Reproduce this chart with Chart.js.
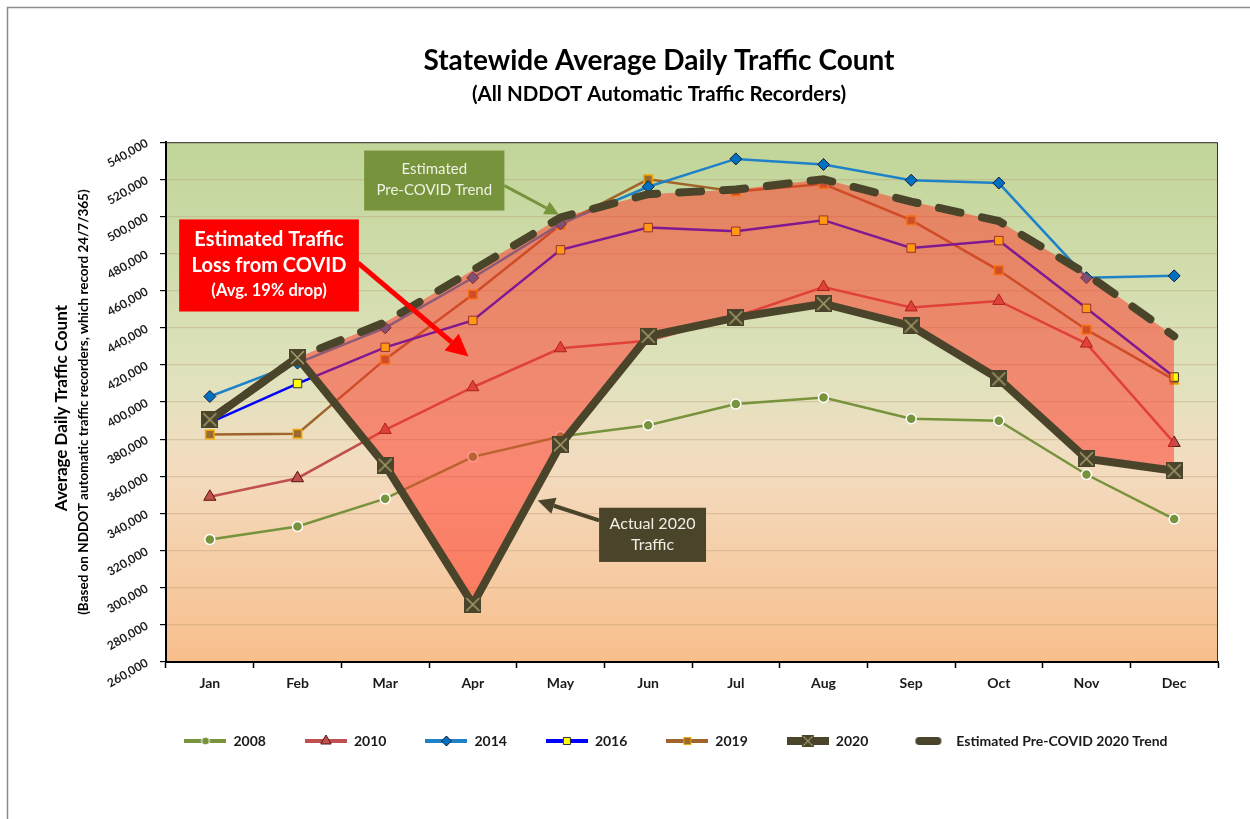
<!DOCTYPE html>
<html>
<head>
<meta charset="utf-8">
<script src="https://cdn.jsdelivr.net/npm/chart.js@4.4.1/dist/chart.umd.min.js"></script>
<style>
  html, body { margin: 0; padding: 0; background: #fff; }
</style>
</head>
<body>
<canvas id="trafficChart" width="1250" height="819"></canvas>
<script>
// ----------------- DATA -----------------
const months = ["Jan", "Feb", "Mar", "Apr", "May", "Jun", "Jul", "Aug", "Sep", "Oct", "Nov", "Dec"];

const adt2008 = [326000, 333000, 348000, 370500, 381500, 387500, 399000, 402500, 391000, 390000, 361000, 337000];
const adt2010 = [349000, 359000, 385000, 408000, 429000, 433000, 446000, 462000, 451000, 454500, 431500, 378000];
const adt2014 = [403000, 421000, 440000, 467000, 496000, 516000, 531000, 528000, 519500, 518000, 467000, 468000];
const adt2016 = [389000, 410000, 429500, 444000, 482000, 494000, 492000, 498000, 483000, 487000, 450500, 413500];
const adt2019 = [382500, 383000, 423000, 458000, 495500, 520000, 513500, 517500, 498000, 471000, 439000, 412000];
const adt2020 = [390500, 424000, 366000, 291000, 377000, 435500, 445500, 453000, 441000, 412500, 369500, 363000];
const preCovidTrend = [390500, 424000, 443000, 471000, 499500, 512000, 514500, 520000, 508000, 497500, 469000, 435500];

const yMin = 260000;
const yMax = 540000;
const yStep = 20000;

const FONT = "Lato, 'Open Sans', sans-serif";
Chart.defaults.font.family = FONT;

// ----------------- MARKERS -----------------
function makeXMarker(size) {
    const c = document.createElement("canvas");
    c.width = size;
    c.height = size;
    const g = c.getContext("2d");
    g.fillStyle = "#4a452a";
    g.fillRect(0, 0, size, size);
    g.strokeStyle = "#a59d6c";
    g.lineWidth = 1.5;
    g.beginPath();
    g.moveTo(2, 2); g.lineTo(size - 2, size - 2);
    g.moveTo(size - 2, 2); g.lineTo(2, size - 2);
    g.stroke();
    return c;
}

// little line + marker picture used as a legend swatch
function legendSample(lineColor, lineWidth, marker) {
    const c = document.createElement("canvas");
    c.width = 42;
    c.height = 16;
    const g = c.getContext("2d");
    g.strokeStyle = lineColor;
    g.lineWidth = lineWidth;
    g.beginPath();
    g.moveTo(0, 8);
    g.lineTo(42, 8);
    g.stroke();
    if (marker instanceof HTMLCanvasElement) {
        g.drawImage(marker, 21 - 6, 8 - 6, 12, 12);
    } else if (marker) {
        g.fillStyle = marker.fill;
        g.strokeStyle = marker.border;
        g.lineWidth = 1;
        Chart.helpers.drawPoint(g, { pointStyle: marker.style, radius: marker.radius, rotation: 0, borderWidth: 1 }, 21, 8);
    }
    return c;
}

function trendSample() {
    const c = document.createElement("canvas");
    c.width = 42;
    c.height = 16;
    const g = c.getContext("2d");
    g.strokeStyle = "#4a452a";
    g.lineWidth = 8;
    g.lineCap = "round";
    g.beginPath();
    g.moveTo(12, 8);
    g.lineTo(30, 8);
    g.stroke();
    return c;
}

const xMarker = makeXMarker(17);

const legendSamples = [
    legendSample("#77933c", 4, { style: "circle", radius: 4, fill: "#77933c", border: "#ffffff" }),
    legendSample("#c0504d", 4, { style: "triangle", radius: 6, fill: "#c0504d", border: "#5a1010" }),
    legendSample("#1f82c8", 4, { style: "rectRot", radius: 5, fill: "#0070c0", border: "#1a1a3a" }),
    legendSample("#0000ff", 4, { style: "rect", radius: 5, fill: "#ffff00", border: "#333333" }),
    legendSample("#a0652d", 4, { style: "rect", radius: 5, fill: "#9a6a30", border: "#f0a800" }),
    legendSample("#4a452a", 8, xMarker),
    trendSample()
];

// ----------------- CALLOUTS -----------------
// positions are in category index / traffic count units
const callouts = [
    {
        x0: 1.76, x1: 3.36, y0: 535500, y1: 503200,
        fill: "#77933c", color: "#eef2e4",
        lines: [["Estimated", "normal 15px"], ["Pre-COVID Trend", "normal 15px"]],
        offsets: [-11, 10],
        arrow: { from: [3.36, 516600], to: [3.98, 501000], color: "#77933c", width: 3, head: 14 }
    },
    {
        x0: -0.35, x1: 1.70, y0: 498400, y1: 448800,
        fill: "#ff0000", color: "#ffffff",
        lines: [["Estimated Traffic", "bold 20px"], ["Loss from COVID", "bold 20px"], ["(Avg. 19% drop)", "bold 16.5px"]],
        offsets: [-26, 0, 25],
        arrow: { from: [1.69, 475000], to: [2.95, 424600], color: "#ff0000", width: 5, head: 22 }
    },
    {
        x0: 4.44, x1: 5.66, y0: 343100, y1: 313900,
        fill: "#4a452a", color: "#f0eee4",
        lines: [["Actual 2020", "normal 16px"], ["Traffic", "normal 16px"]],
        offsets: [-11, 10],
        arrow: { from: [4.44, 336300], to: [3.74, 347000], color: "#4a452a", width: 4, head: 17 }
    }
];

function drawArrow(ctx, x1, y1, x2, y2, color, width, head) {
    const ang = Math.atan2(y2 - y1, x2 - x1);
    const bx = x2 - Math.cos(ang) * head;
    const by = y2 - Math.sin(ang) * head;
    ctx.save();
    ctx.strokeStyle = color;
    ctx.fillStyle = color;
    ctx.lineWidth = width;
    ctx.beginPath();
    ctx.moveTo(x1, y1);
    ctx.lineTo(bx, by);
    ctx.stroke();
    const hw = head * 0.5;
    ctx.beginPath();
    ctx.moveTo(x2, y2);
    ctx.lineTo(bx + Math.sin(ang) * hw, by - Math.cos(ang) * hw);
    ctx.lineTo(bx - Math.sin(ang) * hw, by + Math.cos(ang) * hw);
    ctx.closePath();
    ctx.fill();
    ctx.restore();
}

// ----------------- PLUGINS -----------------
const backdropPlugin = {
    id: "backdrop",
    afterLayout(chart) {
        // legend sits a little right of the canvas centre in the original
        chart.legend.left += 17;
        chart.legend.right += 17;
    },
    beforeDraw(chart) {
        const { ctx, chartArea: a, width, height } = chart;
        ctx.save();
        ctx.fillStyle = "#ffffff";
        ctx.fillRect(0, 0, width, height);
        // outer frame
        ctx.strokeStyle = "#8c8c8c";
        ctx.lineWidth = 1.5;
        ctx.beginPath();
        ctx.moveTo(7.5, height);
        ctx.lineTo(7.5, 7.5);
        ctx.lineTo(width, 7.5);
        ctx.stroke();
        // plot area gradient
        const grad = ctx.createLinearGradient(0, a.top, 0, a.bottom);
        grad.addColorStop(0, "#c0d598");
        grad.addColorStop(0.45, "#dfe2bd");
        grad.addColorStop(0.62, "#f3dcc0");
        grad.addColorStop(1, "#f8be8c");
        ctx.fillStyle = grad;
        ctx.fillRect(a.left, a.top, a.right - a.left, a.bottom - a.top);
        ctx.restore();
    },
    afterDraw(chart) {
        const { ctx, chartArea: a, scales } = chart;
        ctx.save();
        // top / right border of plot
        ctx.strokeStyle = "#333333";
        ctx.lineWidth = 1;
        ctx.beginPath();
        ctx.moveTo(a.left, a.top + 0.5);
        ctx.lineTo(a.right - 0.5, a.top + 0.5);
        ctx.lineTo(a.right - 0.5, a.bottom);
        ctx.stroke();

        // y axis titles
        const cy = (a.top + a.bottom) / 2 + 6;
        ctx.fillStyle = "#000000";
        ctx.textAlign = "center";
        ctx.textBaseline = "middle";
        ctx.translate(62, cy);
        ctx.rotate(-Math.PI / 2);
        ctx.font = "bold 17px " + FONT;
        ctx.fillText("Average Daily Traffic Count", 0, 0);
        ctx.font = "bold 13.5px " + FONT;
        ctx.fillText("(Based on NDDOT automatic traffic recorders, which record 24/7/365)", 6, 22);
        ctx.restore();

        // callouts
        const xs = scales.x, ys = scales.y;
        const px = v => xs.getPixelForValue(0) + v * (xs.getPixelForValue(1) - xs.getPixelForValue(0));
        callouts.forEach(c => {
            const ar = c.arrow;
            drawArrow(ctx, px(ar.from[0]), ys.getPixelForValue(ar.from[1]),
                px(ar.to[0]), ys.getPixelForValue(ar.to[1]), ar.color, ar.width, ar.head);
            const l = px(c.x0), r = px(c.x1);
            const t = ys.getPixelForValue(c.y0), b = ys.getPixelForValue(c.y1);
            ctx.save();
            ctx.fillStyle = c.fill;
            ctx.fillRect(l, t, r - l, b - t);
            ctx.fillStyle = c.color;
            ctx.textAlign = "center";
            ctx.textBaseline = "middle";
            c.lines.forEach((ln, i) => {
                ctx.font = ln[1] + " " + FONT;
                ctx.fillText(ln[0], (l + r) / 2, (t + b) / 2 + c.offsets[i]);
            });
            ctx.restore();
        });
    }
};

// ----------------- CHART SETUP -----------------
const ctx = document.getElementById("trafficChart").getContext("2d");

const trafficChart = new Chart(ctx, {
    type: "line",
    data: {
        labels: months,
        datasets: [
            {
                label: "2008", data: adt2008, order: 2,
                borderColor: "#77933c", borderWidth: 2.5,
                pointStyle: "circle", pointRadius: 5,
                pointBackgroundColor: "#77933c", pointBorderColor: "#ffffff", pointBorderWidth: 1.5
            },
            {
                label: "2010", data: adt2010, order: 2,
                borderColor: "#c0504d", borderWidth: 2.5,
                pointStyle: "triangle", pointRadius: 7,
                pointBackgroundColor: "#c0504d", pointBorderColor: "#5a1010", pointBorderWidth: 1
            },
            {
                label: "2014", data: adt2014, order: 2,
                borderColor: "#1f82c8", borderWidth: 2.5,
                pointStyle: "rectRot", pointRadius: 6,
                pointBackgroundColor: "#0070c0", pointBorderColor: "#1a1a3a", pointBorderWidth: 1
            },
            {
                label: "2016", data: adt2016, order: 2,
                borderColor: "#0000ff", borderWidth: 2.5,
                pointStyle: "rect", pointRadius: 6,
                pointBackgroundColor: "#ffff00", pointBorderColor: "#333333", pointBorderWidth: 1
            },
            {
                label: "2019", data: adt2019, order: 2,
                borderColor: "#a0652d", borderWidth: 2.5,
                pointStyle: "rect", pointRadius: 6,
                pointBackgroundColor: "#9a6a30", pointBorderColor: "#f0a800", pointBorderWidth: 1.5
            },
            {
                label: "2020", data: adt2020, order: 0,
                borderColor: "#4a452a", borderWidth: 8,
                pointStyle: xMarker, pointRadius: 9
            },
            {
                label: "Estimated Pre-COVID 2020 Trend", data: preCovidTrend, order: 1,
                borderColor: "#4a452a", borderWidth: 8,
                borderDash: [22, 22], borderCapStyle: "round",
                pointRadius: 0,
                fill: { target: 5, above: "rgba(255, 50, 35, 0.5)", below: "rgba(0, 0, 0, 0)" }
            }
        ]
    },
    options: {
        responsive: false,
        animation: false,
        events: [],
        layout: { padding: { left: 100, right: 32, top: 0, bottom: 61 } },
        plugins: {
            title: {
                display: true,
                text: "Statewide Average Daily Traffic Count",
                color: "#000000",
                font: { size: 28, weight: "bold" },
                padding: { top: 44, bottom: 2 }
            },
            subtitle: {
                display: true,
                text: "(All NDDOT Automatic Traffic Recorders)",
                color: "#000000",
                font: { size: 20.5, weight: "bold" },
                padding: { top: 2, bottom: 36 }
            },
            legend: {
                position: "bottom",
                labels: {
                    usePointStyle: true,
                    pointStyleWidth: 42,
                    padding: 39,
                    color: "#1a1a1a",
                    font: { size: 14, weight: "bold" },
                    generateLabels(chart) {
                        return chart.data.datasets.map((ds, i) => ({
                            text: ds.label,
                            pointStyle: legendSamples[i],
                            datasetIndex: i,
                            hidden: false,
                            lineWidth: 0,
                            fontColor: "#1a1a1a",
                            fillStyle: "rgba(0,0,0,0)",
                            strokeStyle: "rgba(0,0,0,0)"
                        }));
                    }
                }
            },
            tooltip: { enabled: false }
        },
        scales: {
            x: {
                offset: true,
                grid: { offset: true, drawOnChartArea: false, tickColor: "#000000", tickLength: 6, tickWidth: 1.5 },
                border: { color: "#000000", width: 2 },
                ticks: { color: "#1a1a1a", font: { size: 14, weight: "bold" }, padding: 7 },
                afterFit(scale) { scale.height = 33; }
            },
            y: {
                min: yMin,
                max: yMax,
                grid: { color: "rgba(180, 150, 110, 0.35)", tickColor: "#000000", tickLength: 6, lineWidth: 1.2 },
                border: { color: "#000000", width: 2 },
                ticks: {
                    stepSize: yStep,
                    minRotation: 30,
                    maxRotation: 30,
                    padding: 13,
                    color: "#1a1a1a",
                    font: { size: 12, weight: "bold" },
                    callback: v => v.toLocaleString("en-US")
                },
                afterFit(scale) { scale.width = 66; }
            }
        }
    },
    plugins: [backdropPlugin]
});
</script>
</body>
</html>
